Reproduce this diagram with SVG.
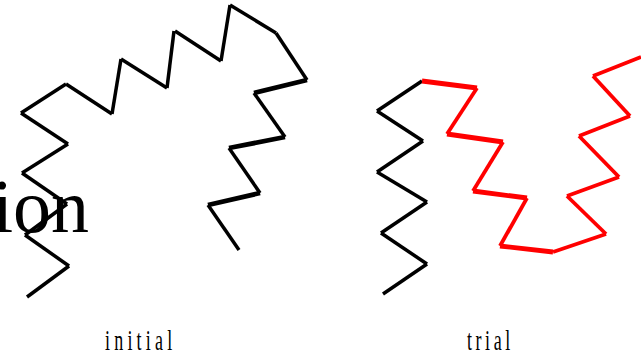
<svg xmlns="http://www.w3.org/2000/svg" width="641" height="356" viewBox="0 0 641 356">
<style>
.k{stroke:#000;stroke-width:3.5;fill:none;stroke-linecap:butt}
.r{stroke:#ff0000;stroke-width:3.8;fill:none;stroke-linecap:butt}
.w{stroke-width:4.8}
.lbl{font-family:"Liberation Serif",serif;font-size:30px;fill:#000}
</style>
<rect width="641" height="356" fill="#fff"/>
<text x="89" y="232" font-family="Liberation Serif, serif" font-size="76" text-anchor="end" fill="#000">ion</text>
<g id="initial-chain">
<line class="k" x1="27" y1="297" x2="69" y2="266"/>
<line class="k" x1="69" y1="266" x2="25" y2="235"/>
<line class="k" x1="25" y1="235" x2="67" y2="204"/>
<line class="k" x1="67" y1="204" x2="22" y2="173"/>
<line class="k" x1="22" y1="173" x2="68" y2="144"/>
<line class="k" x1="68" y1="144" x2="21" y2="113"/>
<line class="k" x1="21" y1="113" x2="66" y2="84"/>
<line class="k" x1="66" y1="84" x2="112" y2="114"/>
<line class="k" x1="112" y1="114" x2="121" y2="59"/>
<line class="k" x1="121" y1="59" x2="167" y2="88"/>
<line class="k" x1="167" y1="88" x2="174" y2="31"/>
<line class="k" x1="175" y1="31" x2="221" y2="61"/>
<line class="k" x1="221" y1="61" x2="230" y2="5"/>
<line class="k" x1="230" y1="5" x2="276" y2="33"/>
<line class="k" x1="276" y1="33" x2="307" y2="80"/>
<line class="k w" x1="307" y1="80" x2="254" y2="93"/>
<line class="k" x1="254" y1="93" x2="285" y2="137"/>
<line class="k w" x1="285" y1="137" x2="229" y2="148"/>
<line class="k" x1="229" y1="148" x2="260" y2="193"/>
<line class="k w" x1="260" y1="193" x2="208" y2="205"/>
<line class="k" x1="208" y1="205" x2="239" y2="250"/>
</g>
<g id="trial-chain">
<line class="k" x1="383" y1="294" x2="427" y2="264"/>
<line class="k" x1="427" y1="264" x2="381" y2="233"/>
<line class="k" x1="381" y1="233" x2="427" y2="202"/>
<line class="k" x1="427" y1="202" x2="377" y2="172"/>
<line class="k" x1="377" y1="172" x2="423" y2="141"/>
<line class="k" x1="423" y1="141" x2="377" y2="111"/>
<line class="k" x1="377" y1="111" x2="422" y2="81"/>
<line class="r w" x1="422" y1="81" x2="477" y2="88"/>
<line class="r" x1="477" y1="88" x2="447" y2="134"/>
<line class="r w" x1="447" y1="134" x2="503" y2="142"/>
<line class="r" x1="503" y1="142" x2="473" y2="191"/>
<line class="r w" x1="473" y1="191" x2="527" y2="198"/>
<line class="r" x1="527" y1="198" x2="500" y2="246"/>
<line class="r w" x1="500" y1="246" x2="553" y2="252"/>
<line class="r" x1="553" y1="252" x2="606" y2="234"/>
<line class="r" x1="606" y1="234" x2="567" y2="196"/>
<line class="r" x1="567" y1="196" x2="619" y2="177"/>
<line class="r" x1="619" y1="177" x2="579" y2="136"/>
<line class="r" x1="579" y1="136" x2="630" y2="116"/>
<line class="r" x1="630" y1="116" x2="593" y2="76"/>
<line class="r" x1="593" y1="76" x2="641" y2="57"/>
</g>
<text class="lbl" transform="translate(105,350) scale(0.6,1)" textLength="112" lengthAdjust="spacing">initial</text>
<text class="lbl" transform="translate(467,350) scale(0.6,1)" textLength="72" lengthAdjust="spacing">trial</text>
</svg>
